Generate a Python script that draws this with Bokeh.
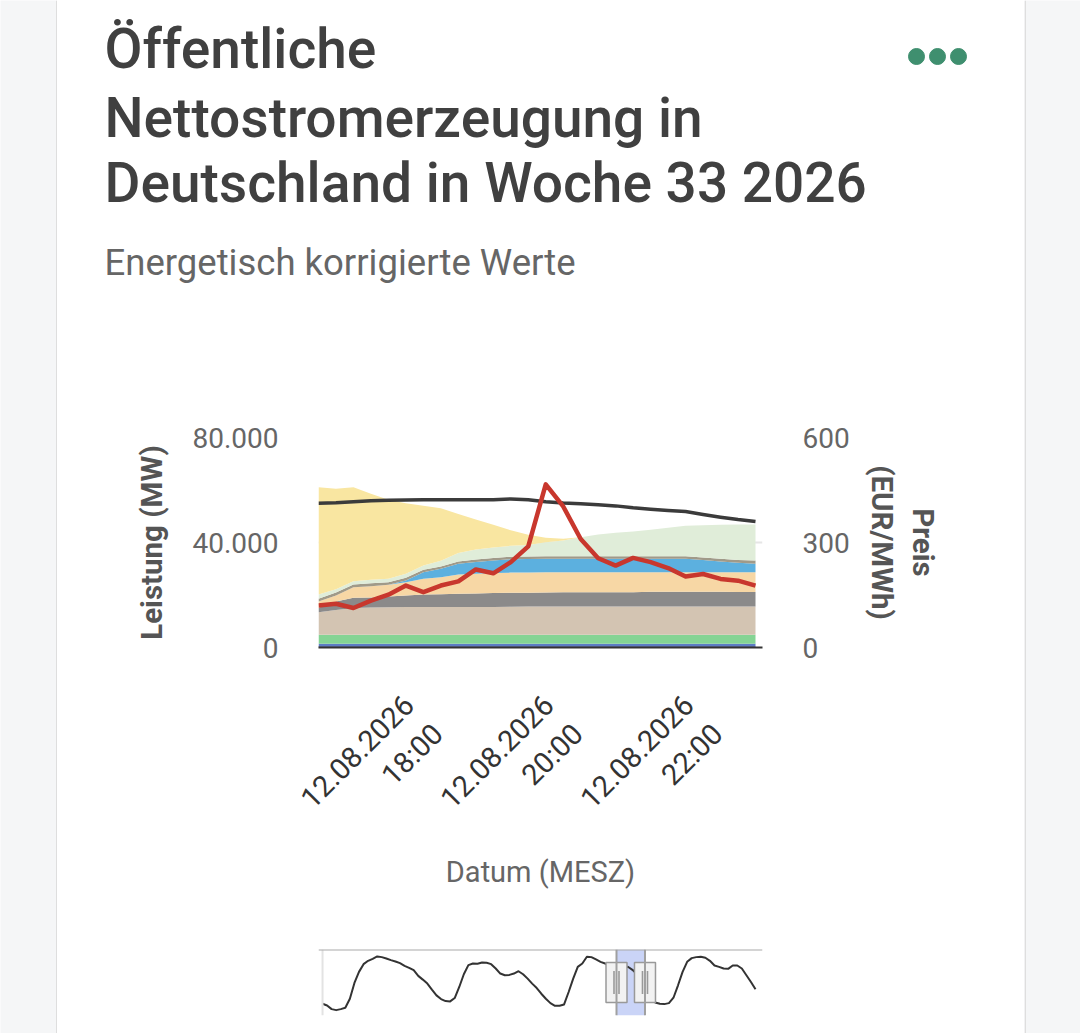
import math
import pandas as pd
from bokeh.plotting import figure
from bokeh.models import ColumnDataSource, Range1d, LinearAxis, FixedTicker, Span, BoxAnnotation
from bokeh.layouts import row, column
from bokeh.embed import file_html
from bokeh.resources import INLINE
from bokeh.core.properties import value

# ---------------- texts ----------------
TITLE_LINES = ["Öffentliche", "Nettostromerzeugung in", "Deutschland in Woche 33 2026"]
SUBTITLE = "Energetisch korrigierte Werte"
Y_LABEL = "Leistung (MW)"
P_LABEL = "Preis\n(EUR/MWh)"
X_LABEL = "Datum (MESZ)"

# ---------------- main chart data (15-min values, 12.08.2026 16:30 - 22:45) ----------------
START = "2026-08-12 16:30"
N_POINTS = 26

speicherwasser = [480, 490, 500, 500, 490, 500, 510, 500, 500, 490, 500, 500, 510,
                  500, 500, 490, 500, 500, 500, 490, 500, 500, 490, 500, 500, 490]
laufwasser = [920, 910, 920, 910, 900, 910, 910, 900, 900, 910, 900, 900, 910,
              900, 900, 910, 900, 890, 900, 900, 890, 900, 900, 890, 900, 900]
biomasse = [3420, 3430, 3430, 3440, 3430, 3440, 3430, 3440, 3430, 3440, 3430, 3440, 3440,
            3430, 3440, 3430, 3440, 3430, 3430, 3440, 3430, 3420, 3430, 3420, 3410, 3420]
braunkohle = [8610, 9450, 10210, 10400, 10510, 10590, 10590, 10600, 10610, 10620, 10640, 10660, 10780,
              10780, 10790, 10780, 10790, 10790, 10780, 10780, 10790, 10780, 10780, 10790, 10780, 10780]
steinkohle = [1680, 3240, 3890, 3810, 4080, 4380, 4760, 4880, 5030, 5140, 5260, 5330, 5220,
              5330, 5450, 5450, 5460, 5450, 5450, 5600, 5600, 5600, 5610, 5600, 5600, 5600]
erdgas = [2400, 2290, 4040, 4300, 4460, 5070, 5980, 6480, 7350, 7500, 7620, 7700, 7730,
          7730, 7620, 7620, 7610, 7620, 7620, 7470, 7470, 7470, 7460, 7470, 7470, 7470]
pumpspeicher = [0, 0, 0, 0, 0, 650, 2510, 3200, 4080, 4500, 4840, 5070, 5140,
                5100, 5100, 5110, 5100, 5100, 5090, 5100, 5100, 5100, 4650, 4080, 3580, 3200]
andere = [1030, 1140, 1030, 1140, 990, 1030, 910, 880, 880, 950, 950, 950, 950,
          990, 990, 990, 990, 990, 990, 990, 990, 990, 950, 1030, 1140, 1260]
wind = [1640, 1260, 1260, 1300, 1300, 1520, 1640, 2200, 3200, 3810, 4000, 4190, 4380,
        5330, 5980, 7240, 8270, 8910, 9410, 10060, 10820, 11580, 12300, 12950, 13450, 13710]
solar = [40880, 38250, 35810, 32760, 30100, 26900, 22740, 19960, 14900, 11430, 8650, 5900, 3890,
         1680, 650, 0, 0, 0, 0, 0, 0, 0, 0, 0, 0, 0]
last = [54970, 55100, 55500, 55900, 56100, 56200, 56250, 56250, 56250, 56250, 56300, 56600, 56300,
        55500, 55050, 54750, 54400, 53950, 53250, 52700, 52200, 51800, 50700, 49650, 48750, 48000]
preis = [120, 125, 113, 134, 151, 177, 158, 177, 189, 223, 212, 244, 289,
         466, 403, 310, 255, 234, 256, 244, 227, 203, 210, 196, 191, 177]

LAYER_NAMES = ["Speicherwasser", "Laufwasser", "Biomasse", "Braunkohle", "Steinkohle",
               "Erdgas", "Pumpspeicher", "Andere", "Wind", "Solar"]
LAYER_COLORS = ["#3d4889", "#5c7cc4", "#84d494", "#d3c4b2", "#8b8a8a",
                "#f7d7a5", "#5cb0df", "#a09a89", "#e0edd9", "#f9e6a1"]

Y_TICKS = [0, 40000, 80000]
Y_TICK_LABELS = ["0", "40.000", "80.000"]
P_TICKS = [0, 300, 600]
P_TICK_LABELS = ["0", "300", "600"]
X_TICKS = ["2026-08-12 18:00", "2026-08-12 20:00", "2026-08-12 22:00"]
# second line right-aligned under the date (figure spaces keep the same width as digits)
X_TICK_LABELS = ["12.08.2026\n\u2007\u2007\u2007\u200718:00",
                 "12.08.2026\n\u2007\u2007\u2007\u200720:00",
                 "12.08.2026\n\u2007\u2007\u2007\u200722:00"]

# ---------------- navigator data (hourly load, 10.08.2026 00:00 - 13.08.2026 23:00) ----------------
NAV_START = "2026-08-10 00:00"
nav_last = [41120, 40430, 38910, 38500, 38910, 39460, 43190, 49660, 54210, 57380, 58760, 59580,
            60550, 60270, 59720, 59030, 58480, 57790, 56690, 55860, 54900, 52560, 51040, 49390,
            46910, 44560, 43050, 42220, 42080, 43460, 48010, 53250, 56970, 57650, 57520, 58070,
            57930, 57380, 55590, 53520, 52830, 52970, 53520, 54480, 53250, 51450, 49390, 47590,
            45250, 43190, 41390, 40290, 40290, 40840, 45940, 51450, 56280, 57650, 60410, 60270,
            59310, 58340, 57650, 56300, 55300, 55700, 56250, 56300, 55050, 53250, 50700, 46500,
            43300, 41670, 41120, 40980, 41390, 43600, 48700, 54210, 58340, 59860, 60270, 60410,
            60000, 58760, 56830, 56280, 55590, 55450, 56830, 56830, 55590, 52830, 50080, 47040]


def ms(t):
    return float(pd.Timestamp(t).value // 10**6)


PAGE_BG = "#f5f6f7"
CARD_W = 967
LEFT_W = 57
RIGHT_W = 56
FONT = "Roboto"
COMMON = dict(output_backend="svg", toolbar_location=None, frame_align=False)
HDR_H, MAIN_H, NAV_H = 300, 605, 128

# ---------------- header ----------------
hdr = figure(width=CARD_W, height=HDR_H, x_range=Range1d(0, CARD_W), y_range=Range1d(HDR_H, 0),
             min_border=0, min_border_left=0, min_border_right=0, min_border_top=0, min_border_bottom=0,
             x_axis_location=None, y_axis_location=None, outline_line_color=None,
             background_fill_color="white", border_fill_color="white", **COMMON)
hdr.grid.visible = False
title_src = ColumnDataSource(dict(x=[47, 47, 47], y=[48, 117, 182], text=TITLE_LINES))
hdr.text(x="x", y="y", text="text", source=title_src, text_font=value("Roboto Medium"),
         text_font_size="55px", text_color="#404040", text_baseline="alphabetic")
hdr.text(x=[47], y=[262], text=[SUBTITLE], text_font=value(FONT), text_font_size="36.5px",
         text_color="#666666", text_baseline="alphabetic")
hdr.scatter(x=[859, 880, 901], y=[56, 56, 56], size=16, color="#3f8f6f")

# ---------------- main chart ----------------
times = pd.date_range(START, periods=N_POINTS, freq="15min")
x_start = pd.Timestamp(START)
x_end = times[-1] + pd.Timedelta(minutes=6)

data = dict(x=times, last=last, preis=preis)
for name, vals in zip(LAYER_NAMES, [speicherwasser, laufwasser, biomasse, braunkohle, steinkohle,
                                    erdgas, pumpspeicher, andere, wind, solar]):
    data[name] = vals
src = ColumnDataSource(data)

p = figure(width=CARD_W, height=MAIN_H, x_axis_type="datetime",
           x_range=Range1d(x_start, x_end), y_range=Range1d(0, 80000),
           min_border_left=261, min_border_right=262, min_border_top=137, min_border_bottom=258,
           background_fill_color="white", border_fill_color="white", outline_line_color=None,
           **COMMON)
p.extra_y_ranges = {"price": Range1d(0, 600)}

p.varea_stack(stackers=LAYER_NAMES, x="x", color=LAYER_COLORS, source=src)
p.line("x", "last", source=src, color="#3b3b3b", line_width=3.5, line_join="round")
p.line("x", "preis", source=src, color="#c8372d", line_width=4.5, line_join="round",
       y_range_name="price")

p.xgrid.visible = False
p.ygrid.grid_line_color = "#e6e6e6"
p.ygrid.grid_line_width = 2
p.ygrid.ticker = FixedTicker(ticks=Y_TICKS)

yax = p.yaxis[0]
yax.ticker = FixedTicker(ticks=Y_TICKS)
yax.major_label_overrides = {float(t): s for t, s in zip(Y_TICKS, Y_TICK_LABELS)}
yax.axis_label = Y_LABEL

pax = LinearAxis(y_range_name="price", ticker=FixedTicker(ticks=P_TICKS))
pax.major_label_overrides = {float(t): s for t, s in zip(P_TICKS, P_TICK_LABELS)}
pax.axis_label = P_LABEL
p.add_layout(pax, "right")

for ax in (yax, pax):
    ax.axis_line_color = None
    ax.major_tick_line_color = None
    ax.minor_tick_line_color = None
    ax.major_tick_out = 0
    ax.major_tick_in = 0
    ax.minor_tick_out = 0
    ax.major_label_standoff = 40
    ax.major_label_text_font = FONT
    ax.major_label_text_font_size = "28px"
    ax.major_label_text_color = "#666666"
    ax.axis_label_text_font = FONT
    ax.axis_label_text_font_size = "29.5px"
    ax.axis_label_text_font_style = "bold"
    ax.axis_label_text_color = "#555555"
yax.axis_label_standoff = 20
pax.axis_label_standoff = 12

xax = p.xaxis[0]
x_tick_ms = [ms(t) for t in X_TICKS]
xax.ticker = FixedTicker(ticks=x_tick_ms)
xax.major_label_overrides = {t: s for t, s in zip(x_tick_ms, X_TICK_LABELS)}
xax.major_label_orientation = math.pi / 4
xax.major_label_text_align = "right"
xax.axis_line_color = "#333333"
xax.axis_line_width = 2
xax.major_tick_line_color = None
xax.minor_tick_line_color = None
xax.major_tick_out = 0
xax.major_tick_in = 0
xax.minor_tick_out = 0
xax.major_label_standoff = 67
xax.major_label_text_font = FONT
xax.major_label_text_font_size = "29px"
xax.major_label_text_color = "#333333"
xax.axis_label = X_LABEL
xax.axis_label_standoff = -18
xax.axis_label_text_font = FONT
xax.axis_label_text_font_size = "29px"
xax.axis_label_text_font_style = "normal"
xax.axis_label_text_color = "#666666"

# ---------------- navigator ----------------
nav_times = pd.date_range(NAV_START, periods=len(nav_last), freq="h")
nav_x0 = pd.Timestamp(NAV_START) - pd.Timedelta(minutes=53)
nav_x1 = nav_times[-1] + pd.Timedelta(minutes=92)
NAV_Y0, NAV_Y1 = 36300, 63400
NAV_FRAME_W = CARD_W - 261 - 262

nav = figure(width=CARD_W, height=NAV_H, x_axis_type="datetime",
             x_range=Range1d(nav_x0, nav_x1), y_range=Range1d(NAV_Y0, NAV_Y1),
             min_border_left=261, min_border_right=262, min_border_top=44,
             min_border_bottom=NAV_H - 44 - 66,
             x_axis_location=None, y_axis_location=None, outline_line_color=None,
             background_fill_color="white", border_fill_color="white", **COMMON)
nav.grid.visible = False

sel0 = ms(x_start)
sel1 = ms(times[-1])
nav.add_layout(BoxAnnotation(left=sel0, right=sel1, fill_color="#cad4f7", fill_alpha=1.0,
                             line_color=None, level="underlay"))
nav.add_layout(Span(location=ms(NAV_START), dimension="height", line_color="#e3e3e3", line_width=2))
nav.line(x=nav_times, y=nav_last, color="#333333", line_width=2, line_join="round")
nav.add_layout(Span(location=NAV_Y1, dimension="width", line_color="#a9a9a9", line_width=2))
for edge in (sel0, sel1):
    nav.add_layout(Span(location=edge, dimension="height", line_color="#a0a0a0", line_width=2))

ymid = (NAV_Y0 + NAV_Y1) / 2
nav.rect(x=[sel0, sel1], y=[ymid, ymid], width=21, height=40, width_units="screen",
         height_units="screen", fill_color="#f2f2f2", line_color="#999999", line_width=1.5)
ms_per_px = (ms(nav_x1) - ms(nav_x0)) / NAV_FRAME_W
grip_x = [sel0 - 2.5 * ms_per_px, sel0 + 2.5 * ms_per_px, sel1 - 2.5 * ms_per_px, sel1 + 2.5 * ms_per_px]
nav.rect(x=grip_x, y=[ymid] * 4, width=1.6, height=23, width_units="screen",
         height_units="screen", fill_color="#999999", line_color=None)

# ---------------- page margins / card borders ----------------
TOTAL_H = HDR_H + MAIN_H + NAV_H


def side(width, border_x):
    s = figure(width=width, height=TOTAL_H, x_range=Range1d(0, width), y_range=Range1d(0, 1),
               min_border=0, min_border_left=0, min_border_right=0, min_border_top=0, min_border_bottom=0,
               x_axis_location=None, y_axis_location=None, outline_line_color=None,
               background_fill_color=PAGE_BG, border_fill_color=PAGE_BG, **COMMON)
    s.grid.visible = False
    s.add_layout(Span(location=border_x, dimension="height", line_color="#dddddd", line_width=1.5))
    return s


left = side(LEFT_W, LEFT_W - 0.7)
right = side(RIGHT_W, 0.7)

layout = row(left, column(hdr, p, nav), right)

with open("out.html", "w") as f:
    f.write(file_html(layout, INLINE))
